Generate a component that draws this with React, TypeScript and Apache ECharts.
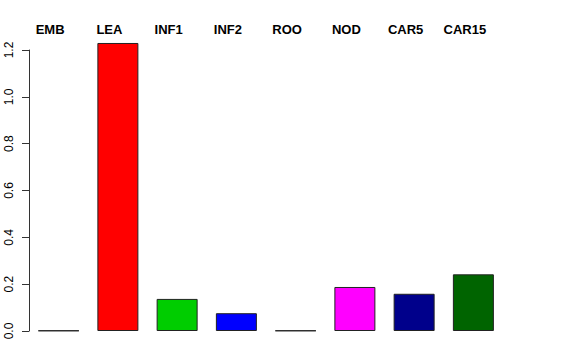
import React, { useEffect, useRef } from "react";
import * as echarts from "echarts";

const categories = ["EMB", "LEA", "INF1", "INF2", "ROO", "NOD", "CAR5", "CAR15"];
const values = [0.002, 1.23, 0.137, 0.076, 0.002, 0.188, 0.159, 0.242];
const yTicks = { min: 0, max: 1.2, interval: 0.2 };
const palette = ["#ffffff", "#ff0000", "#00cd00", "#0000ff", "#ffffff", "#ff00ff", "#00008b", "#006400"];

export default function App() {
  const ref = useRef<HTMLDivElement>(null);
  useEffect(() => {
    if (!ref.current) return;
    const chart = echarts.init(ref.current, null, { renderer: "svg" });
    chart.setOption({
      animation: false,
      backgroundColor: "#ffffff",
      grid: { left: 29, right: 73, top: 50, bottom: 29, containLabel: false },
      xAxis: {
        type: "category",
        position: "top",
        data: categories,
        axisLine: { show: false },
        axisTick: { show: false },
        axisLabel: {
          color: "#000",
          fontWeight: "bold",
          fontSize: 13,
          fontFamily: "Liberation Sans",
          margin: 14,
          interval: 0,
          padding: [0, 17, 0, 0],
        },
        splitLine: { show: false },
      },
      yAxis: {
        type: "value",
        min: yTicks.min,
        max: yTicks.max,
        interval: yTicks.interval,
        axisLine: { show: true, lineStyle: { color: "#333", width: 1 } },
        axisTick: { show: true, length: 7, lineStyle: { color: "#333" } },
        axisLabel: {
          color: "#000",
          fontSize: 12,
          fontFamily: "Liberation Sans",
          rotate: 90,
          margin: 14,
          formatter: (v: number) => v.toFixed(1),
        },
        splitLine: { show: false },
      },
      series: [
        {
          type: "bar",
          data: values.map((v, i) => ({ value: v, itemStyle: { color: palette[i] } })),
          barWidth: 41,
          clip: false,
          itemStyle: { borderColor: "#222", borderWidth: 1 },
        },
      ],
    });
    return () => chart.dispose();
  }, []);
  return <div ref={ref} style={{ width: 576, height: 360, position: "absolute", left: 0, top: 0 }} />;
}
